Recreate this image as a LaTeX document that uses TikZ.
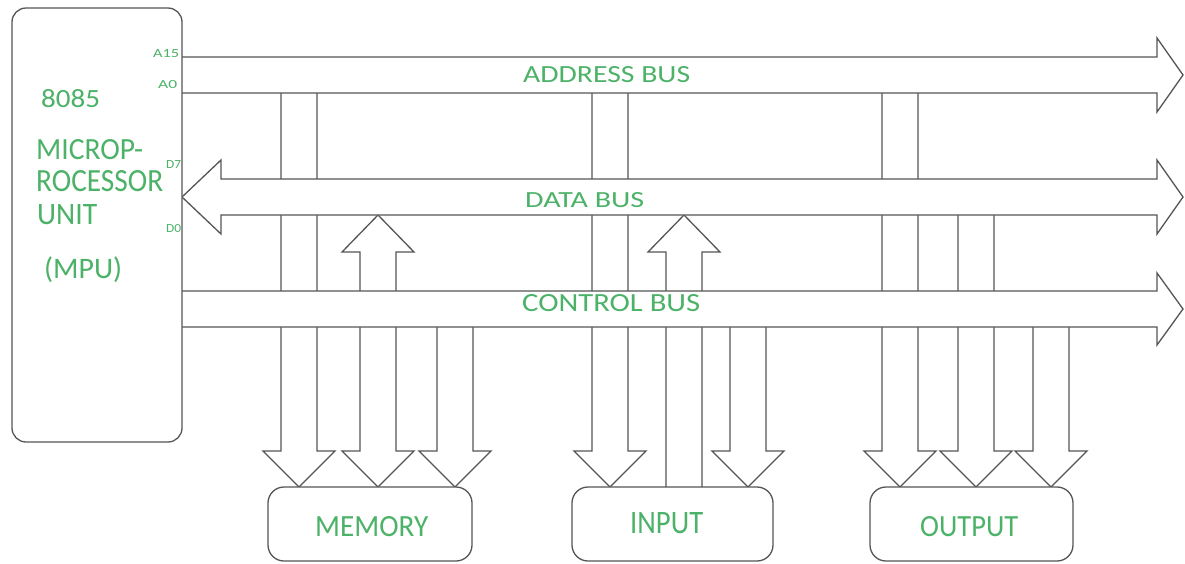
\documentclass[tikz,border=0pt]{standalone}
\usepackage{fontspec}
\setmainfont{Carlito}
\usepackage{graphicx}
\definecolor{txt}{RGB}{76,178,104}
\definecolor{ln}{RGB}{85,85,85}
\newcommand\fitbox[3]{\resizebox{#1pt}{#2pt}{\fontsize{20}{24}\selectfont #3}}
\newcommand\darr[2]{\draw[arr] (#1,#2) -- (#1,451) -- ({#1-18},451) -- ({#1+18},487) -- ({#1+54},451) -- ({#1+36},451) -- ({#1+36},#2);}
\begin{document}
\begin{tikzpicture}[x=1pt,y=-1pt,
  bus/.style={draw=ln, fill=white, line width=1.3pt, line join=miter},
  arr/.style={draw=ln, fill=white, line width=1.3pt},
  box/.style={draw=ln, fill=white, rounded corners=16pt, line width=1.3pt, inner sep=0pt},
  lbl/.style={text=txt, inner sep=0pt, anchor=south west}]
\useasboundingbox (0,0) rectangle (1185,563);
% branch arrows (drawn first, buses cover their crossings)
\darr{281}{93}
\draw[arr] (360,451) -- (360,252) -- (342,252) -- (378,215) -- (414,252) -- (396,252) -- (396,451) -- (414,451) -- (378,487) -- (342,451) -- cycle;
\darr{437}{327}
\darr{592}{93}
\draw[arr] (666,487) -- (666,252) -- (648,252) -- (684,215) -- (720,252) -- (702,252) -- (702,487);
\darr{730}{327}
\darr{882}{93}
\darr{958}{215}
\darr{1033}{327}
% buses
\draw[bus] (182,57) -- (1157,57) -- (1157,38) -- (1183,75) -- (1157,112) -- (1157,93) -- (182,93);
\draw[bus] (182,197) -- (221,160) -- (221,179) -- (1157,179) -- (1157,160) -- (1183,197) -- (1157,234) -- (1157,215) -- (221,215) -- (221,234) -- cycle;
\draw[bus] (182,291) -- (1157,291) -- (1157,273) -- (1183,309) -- (1157,345) -- (1157,327) -- (182,327);
% boxes
\node[box, rounded corners=14pt, minimum width=170pt, minimum height=434pt] (mpu) at (97,225) {};
\node[box, minimum width=204pt, minimum height=74pt] (mem) at (370,524) {};
\node[box, minimum width=201pt, minimum height=74pt] (inp) at (672.5,524) {};
\node[box, minimum width=203pt, minimum height=74pt] (outp) at (971.5,524) {};
% labels
\node[lbl] (la) at (523,83) {\fitbox{167}{16}{ADDRESS BUS}};
\node[lbl] (ld) at (525,208) {\fitbox{119}{15}{DATA BUS}};
\node[lbl] (lc) at (522,312) {\fitbox{178}{17}{CONTROL BUS}};
\node[lbl] (l1) at (41,108) {\fitbox{59}{18}{8085}};
\node[lbl] (l2) at (36,160) {\fitbox{107}{20}{MICROP-}};
\node[lbl] (l3) at (36,192) {\fitbox{127}{21}{ROCESSOR}};
\node[lbl] (l4) at (37,225) {\fitbox{60}{20}{UNIT}};
\node[lbl, anchor=base west] (l5) at (44,278) {\resizebox{78pt}{!}{\fontsize{20}{24}\selectfont (MPU)}};
\node[lbl] (lm) at (315,537) {\fitbox{113}{20}{MEMORY}};
\node[lbl] (li) at (630,534) {\fitbox{73}{21}{INPUT}};
\node[lbl] (lo) at (920,537) {\fitbox{98}{20}{OUTPUT}};
\node[lbl] (a15) at (153,58) {\fitbox{26}{8}{A15}};
\node[lbl] (a0) at (158,89) {\fitbox{19}{8}{A0}};
\node[lbl] (d7) at (166,169) {\fitbox{15}{8}{D7}};
\node[lbl] (d0) at (166,233) {\fitbox{15}{8}{D0}};
\end{tikzpicture}
\end{document}
